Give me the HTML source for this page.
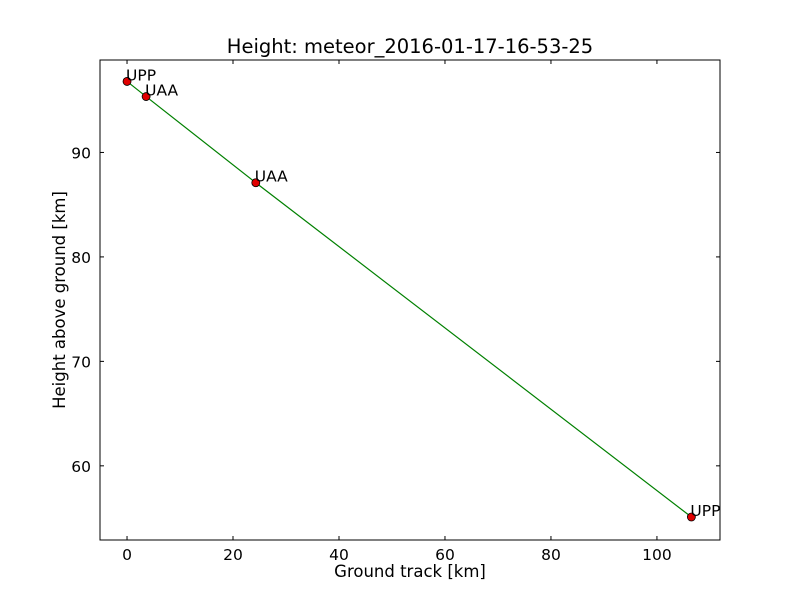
<!DOCTYPE html>
<html><head><meta charset="utf-8"><style>
body{margin:0;background:#fff;}
svg text{font-family:"DejaVu Sans","Liberation Sans",sans-serif;}
</style></head><body>
<svg id="chart" width="800" height="600" xmlns="http://www.w3.org/2000/svg">
<rect width="800" height="600" fill="#fff"/>
<text x="410" y="53" font-size="19.5" text-anchor="middle">Height: meteor_2016-01-17-16-53-25</text>
<g id="plot"></g>
<rect x="100" y="60" width="620" height="480" fill="none" stroke="#000" stroke-width="1"/>
<text x="410" y="577" font-size="16.5" text-anchor="middle">Ground track [km]</text>
<text x="65" y="300" font-size="16.5" text-anchor="middle" transform="rotate(-90 65 300)">Height above ground [km]</text>
</svg>
<script>
const xs=[0,3.6,24.3,106.5];
const ys=[96.8,95.35,87.1,55.1];
const labels=["UPP","UAA","UAA","UPP"];
const xTicks=[0,20,40,60,80,100];
const yTicks=[60,70,80,90];
const X0=-5.1,X1=111.9,Y0=52.9,Y1=98.85;
const L=100,R=720,T=60,B=540;
const sx=v=>L+(v-X0)/(X1-X0)*(R-L);
const sy=v=>B-(v-Y0)/(Y1-Y0)*(B-T);
const NS="http://www.w3.org/2000/svg";
const g=document.getElementById('plot');
function mk(t,a){const e=document.createElementNS(NS,t);for(const k in a)e.setAttribute(k,a[k]);g.appendChild(e);return e;}
xTicks.forEach(v=>{const x=sx(v);
 let t=mk('line',{x1:x,x2:x,y1:B,y2:B-4,stroke:'#000'});
 t=mk('line',{x1:x,x2:x,y1:T,y2:T+4,stroke:'#000'});
 const l=mk('text',{x:x,y:B+20,'font-size':15.5,'text-anchor':'middle'});l.textContent=v;
 });
yTicks.forEach(v=>{const y=sy(v);
 let t=mk('line',{x1:L,x2:L+4,y1:y,y2:y,stroke:'#000'});
 t=mk('line',{x1:R,x2:R-4,y1:y,y2:y,stroke:'#000'});
 const l=mk('text',{x:L-9,y:y+6,'font-size':15.5,'text-anchor':'end'});l.textContent=v;
 });
const line=mk('polyline',{points:xs.map((v,i)=>sx(v)+','+sy(ys[i])).join(' '),fill:'none',stroke:'#008000','stroke-width':1.2});


xs.forEach((v,i)=>{
 const c=mk('circle',{cx:sx(v),cy:sy(ys[i]),r:4,fill:'#e00000',stroke:'#000','stroke-width':0.8});
 
 
 const t=mk('text',{x:sx(v)-1,y:sy(ys[i])-1,'font-size':15.5});t.textContent=labels[i];
 
 
});
</script>
</body></html>
